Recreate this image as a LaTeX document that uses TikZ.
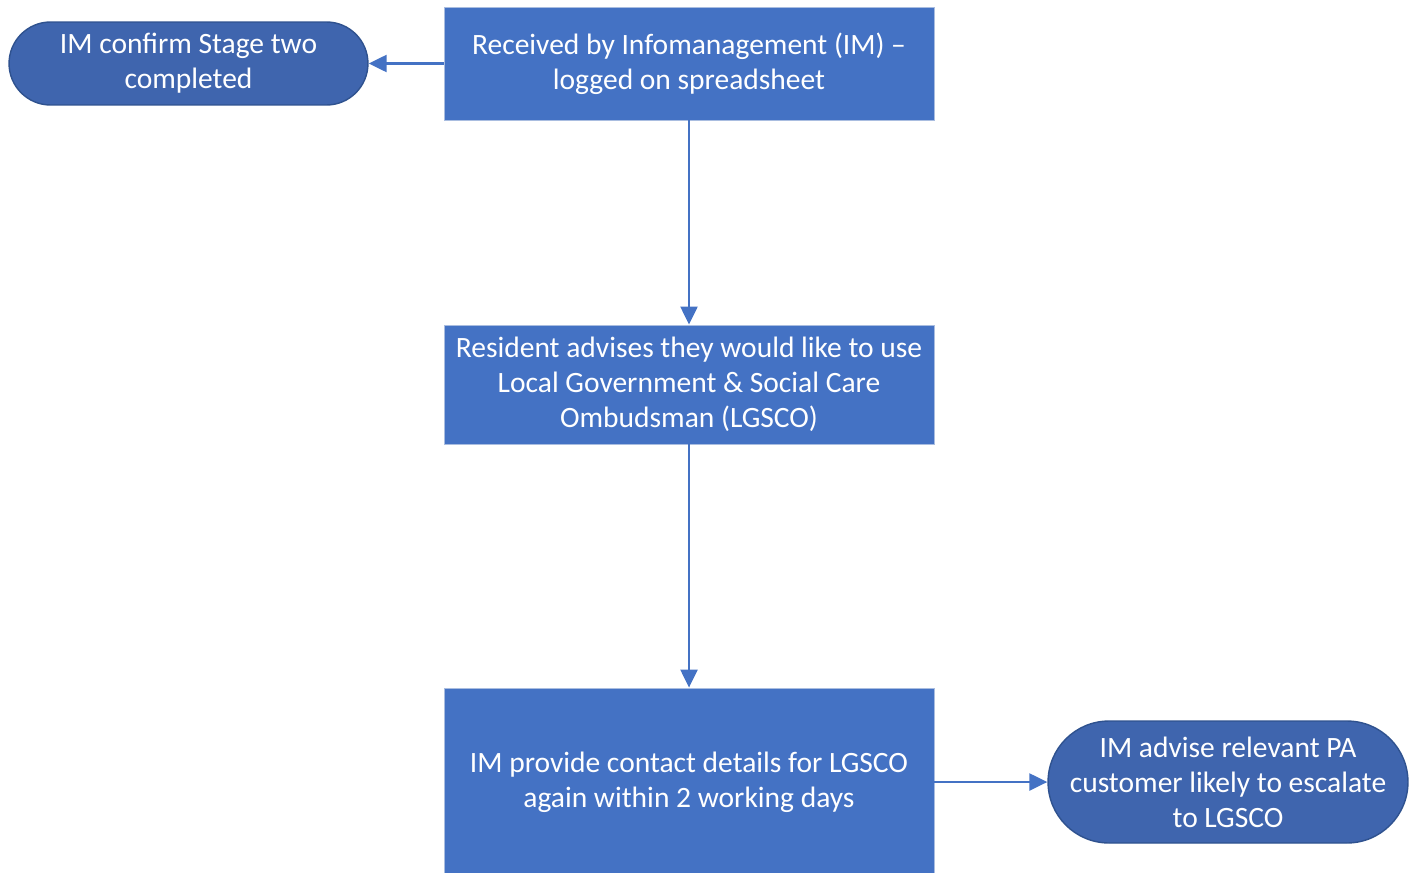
\documentclass[tikz,border=0pt]{standalone}
\usepackage{fontspec}
\setmainfont{Carlito}
\usetikzlibrary{arrows.meta}
\definecolor{boxblue}{HTML}{4472C4}
\definecolor{boxline}{HTML}{A9BDE0}
\definecolor{ovalblue}{HTML}{3F65AE}
\definecolor{ovalline}{HTML}{2F528F}
\begin{document}
\begin{tikzpicture}[x=0.02cm,y=-0.02cm]
        \tikzstyle{box}=[draw=boxline,line width=0.5pt,fill=boxblue,text=white,align=center,inner sep=0pt,minimum width=9.8cm,font=\fontsize{16.8}{19.9}\selectfont]
        \tikzstyle{term}=[draw=ovalline,line width=0.8pt,fill=ovalblue,text=white,align=center,inner sep=0pt,font=\fontsize{16.8}{19.9}\selectfont]
        \tikzstyle{flow}=[draw=boxblue,line width=1.3pt,-{Triangle[length=0.36cm,width=0.34cm]}]

        \useasboundingbox (0,0) rectangle (1415,872);

        \node[box,minimum height=2.26cm](recv) at (689,63.5){Received by Infomanagement (IM) --\\logged on spreadsheet};
        \node[term,minimum width=7.18cm,minimum height=1.66cm,rounded corners=0.83cm](conf) at (188.5,63.5){IM confirm Stage two\\completed};

        \node[box,minimum height=2.38cm](res) at (689,384.5){Resident advises they would like to use\\Local Government \& Social Care\\Ombudsman (LGSCO)};

        \node[box,minimum height=3.76cm](prov) at (689,782){IM provide contact details for LGSCO\\again within 2 working days};
        \node[term,minimum width=7.2cm,minimum height=2.44cm,rounded corners=1.22cm](adv) at (1228,782){IM advise relevant PA\\customer likely to escalate\\to LGSCO};

        \draw[flow] (recv) -- (conf);
        \draw[flow] (recv) -- (res);
        \draw[flow] (res) -- (prov);
        \draw[flow] (prov) -- (adv);

    \end{tikzpicture}
\end{document}
